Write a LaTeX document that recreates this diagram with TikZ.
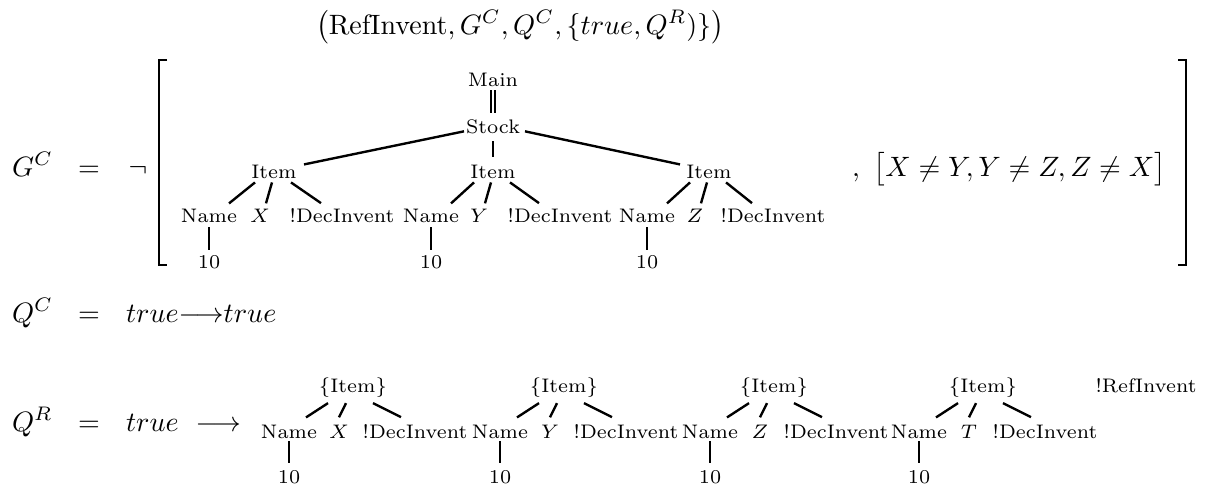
\documentclass[tikz,border=0pt]{standalone}
\usepackage{amsmath}
\begin{document}
\begin{tikzpicture}[x=0.357pt,y=-0.357pt,
  every node/.style={inner sep=0pt,outer sep=0pt,anchor=mid},
  lbl/.style={font=\scriptsize},
  tedge/.style={line width=0.85pt},
  brk/.style={line width=0.65pt}]
\useasboundingbox (0,0) rectangle (1224,488);
% heading
\node[anchor=mid west] (head) at (316,28) {$\bigl(\mathrm{RefInvent}, G^C, Q^C, \{true, Q^R)\}\bigr)$};
% G^C row
\node[anchor=mid west] (gc) at (12,170) {$G^C$};
\node (eq1) at (89,170) {$=$};
\node (neg) at (138,170) {$\neg$};
\draw[brk] (167,60) -- (159,60) -- (159,265) -- (167,265);
\draw[brk] (1178,60) -- (1186,60) -- (1186,265) -- (1178,265);
\node[anchor=mid west] (cons) at (852,170) {$,\ \bigl[X\neq Y, Y\neq Z, Z\neq X\bigr]$};
% tree of G^C
\node[lbl] (main) at (493,80) {Main};
\node[lbl] (stock) at (493,127) {Stock};
\draw[line width=0.5pt] ([shift={(-2,11)}]main.center) -- ([shift={(-2,-13)}]stock.center);
\draw[line width=0.5pt] ([shift={(2,11)}]main.center) -- ([shift={(2,-13)}]stock.center);
\foreach \i/\n/\x/\it/\d/\v in {1/209/260/274/342/X, 2/431/479/493/560/Y, 3/647/695/709/773/Z}{
  \node[lbl] (it\i) at (\it,172) {Item};
  \node[lbl] (nm\i) at (\n,216) {Name};
  \node[lbl] (vv\i) at (\x,216) {$\v$};
  \node[lbl] (dc\i) at (\d,216) {!DecInvent};
  \node[lbl] (tn\i) at (\n,262) {10};
  \draw[tedge] ([shift={(-19,11)}]it\i.center) -- ([shift={(20,-12)}]nm\i.center);
  \draw[tedge] ([shift={(-2,11)}]it\i.center) -- ([shift={(6,-12)}]vv\i.center);
  \draw[tedge] ([shift={(17,11)}]it\i.center) -- ([shift={(-21,-12)}]dc\i.center);
  \draw[tedge] ([shift={(0,12)}]nm\i.center) -- ([shift={(0,-12)}]tn\i.center);
}
\draw[tedge] ([shift={(-29,5)}]stock.center) -- ([shift={(30,-7)}]it1.center);
\draw[tedge] ([shift={(0,15)}]stock.center) -- ([shift={(0,-14)}]it2.center);
\draw[tedge] ([shift={(32,5)}]stock.center) -- ([shift={(-29,-7)}]it3.center);
% Q^C row
\node[anchor=mid west] (qc) at (12,316) {$Q^C$};
\node (eq2) at (89,316) {$=$};
\node[anchor=mid west] (qcr) at (126,316) {$true{\longrightarrow}true$};
% Q^R row
\node[anchor=mid west] (qr) at (12,425) {$Q^R$};
\node (eq3) at (89,425) {$=$};
\node[anchor=mid west] (qrr) at (126,425) {$true\ \;{\longrightarrow}$};
\foreach \i/\n/\v in {1/289/X, 2/500/Y, 3/710/Z, 4/919/T}{
  \node[lbl] (ri\i) at (\n+64,386) {$\{$Item$\}$};
  \node[lbl] (rn\i) at (\n,432) {Name};
  \node[lbl] (rv\i) at (\n+50,432) {$\v$};
  \node[lbl] (rd\i) at (\n+126,432) {!DecInvent};
  \node[lbl] (rt\i) at (\n,477) {10};
  \draw[tedge] ([shift={(-25,16)}]ri\i.center) -- ([shift={(17,-14)}]rn\i.center);
  \draw[tedge] ([shift={(-7,16)}]ri\i.center) -- ([shift={(0,-14)}]rv\i.center);
  \draw[tedge] ([shift={(20,16)}]ri\i.center) -- ([shift={(-14,-14)}]rd\i.center);
  \draw[tedge] ([shift={(0,10)}]rn\i.center) -- ([shift={(0,-14)}]rt\i.center);
}
\node[lbl] (ref) at (1146,386) {!RefInvent};
\end{tikzpicture}
\end{document}
